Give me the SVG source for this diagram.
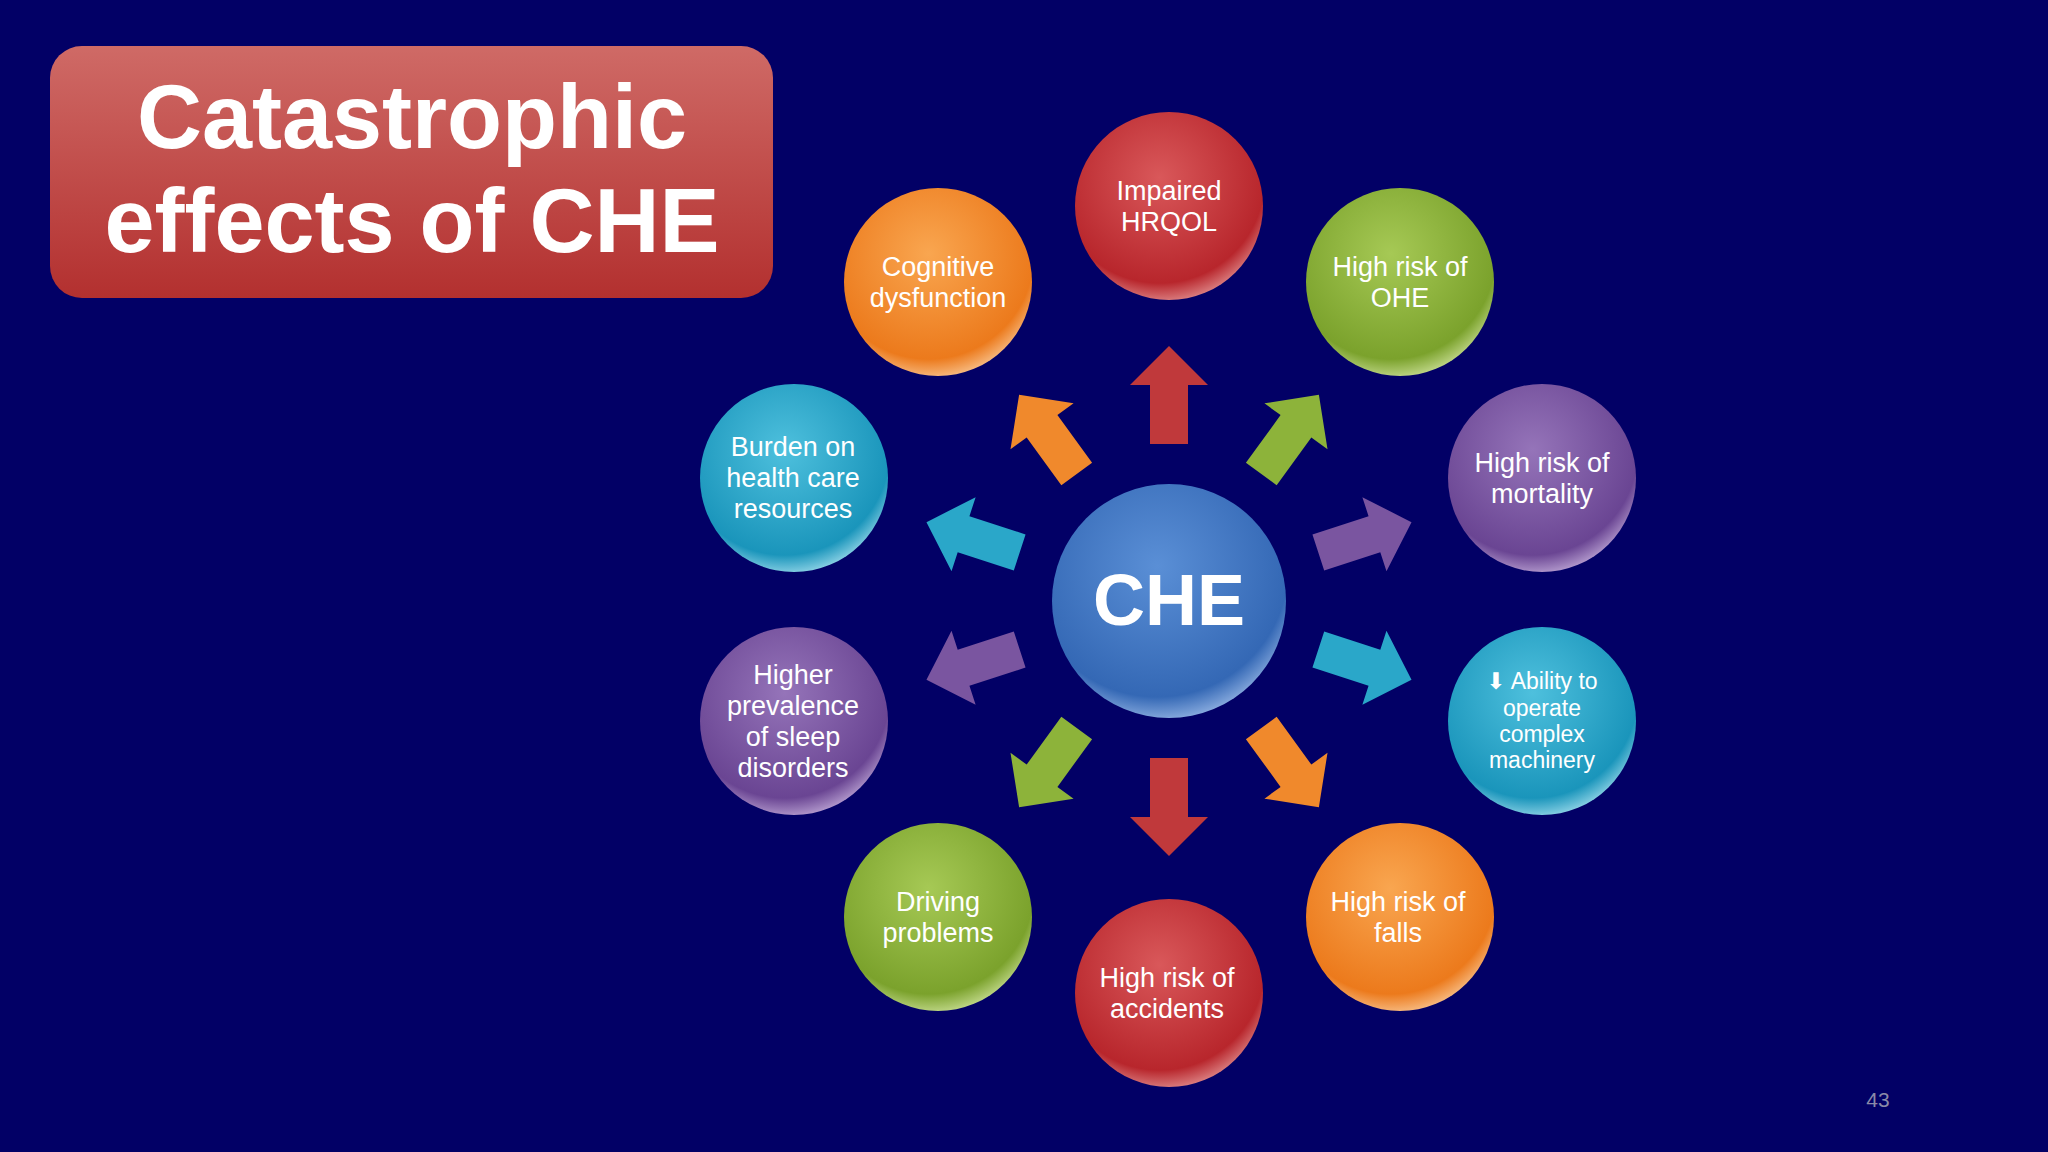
<svg xmlns="http://www.w3.org/2000/svg" width="2048" height="1152" viewBox="0 0 2048 1152">
<defs>
<radialGradient id="gr" cx="0.45" cy="0.35" r="0.7"><stop offset="0" stop-color="#d9585a"/><stop offset="0.8" stop-color="#b8262c"/><stop offset="1" stop-color="#e8a0a0"/></radialGradient>
<radialGradient id="gg" cx="0.45" cy="0.35" r="0.7"><stop offset="0" stop-color="#a6c955"/><stop offset="0.8" stop-color="#7ba22c"/><stop offset="1" stop-color="#d8eaa8"/></radialGradient>
<radialGradient id="gp" cx="0.45" cy="0.35" r="0.7"><stop offset="0" stop-color="#9574b9"/><stop offset="0.8" stop-color="#6a4593"/><stop offset="1" stop-color="#cdb8e2"/></radialGradient>
<radialGradient id="gc" cx="0.45" cy="0.35" r="0.7"><stop offset="0" stop-color="#4ec0dd"/><stop offset="0.8" stop-color="#1a95bb"/><stop offset="1" stop-color="#b2e6f3"/></radialGradient>
<radialGradient id="go" cx="0.45" cy="0.35" r="0.7"><stop offset="0" stop-color="#f9a650"/><stop offset="0.8" stop-color="#ec7a1c"/><stop offset="1" stop-color="#fbd2a6"/></radialGradient>
<radialGradient id="gb" cx="0.45" cy="0.35" r="0.7"><stop offset="0" stop-color="#5a8fd6"/><stop offset="0.8" stop-color="#3468b5"/><stop offset="1" stop-color="#a8c4ee"/></radialGradient>
<linearGradient id="gt" x1="0" y1="0" x2="0" y2="1"><stop offset="0" stop-color="#cf6a66"/><stop offset="1" stop-color="#b3302f"/></linearGradient>
<path id="arr" d="M0,-49 L39,-10 L19,-10 L19,49 L-19,49 L-19,-10 L-39,-10 Z"/>
</defs>
<style>
.t{font-family:"Liberation Sans",Arial,sans-serif;fill:#fff;text-anchor:middle}
.n{font-size:27px}
.s{font-size:23px}
</style>
<rect width="2048" height="1152" fill="#020066"/>
<g id="title">
<rect x="50" y="46" width="723" height="252" rx="32" fill="url(#gt)"/>
<text class="t" x="412" y="148" font-size="90" font-weight="bold">Catastrophic</text>
<text class="t" x="412" y="252" font-size="90" font-weight="bold">effects of CHE</text>
</g>
<g id="connectors" transform="translate(1169,601)">
<use href="#arr" fill="#c0393b" transform="rotate(0) translate(0,-206)"/>
<use href="#arr" fill="#8db33a" transform="rotate(36) translate(0,-206)"/>
<use href="#arr" fill="#7a55a0" transform="rotate(72) translate(0,-206)"/>
<use href="#arr" fill="#2aa7c9" transform="rotate(108) translate(0,-206)"/>
<use href="#arr" fill="#f0892c" transform="rotate(144) translate(0,-206)"/>
<use href="#arr" fill="#c0393b" transform="rotate(180) translate(0,-206)"/>
<use href="#arr" fill="#8db33a" transform="rotate(216) translate(0,-206)"/>
<use href="#arr" fill="#7a55a0" transform="rotate(252) translate(0,-206)"/>
<use href="#arr" fill="#2aa7c9" transform="rotate(288) translate(0,-206)"/>
<use href="#arr" fill="#f0892c" transform="rotate(324) translate(0,-206)"/>
</g>
<g id="che"><circle cx="1169" cy="601" r="117" fill="url(#gb)"/><text class="t" x="1169" y="625" font-size="72" font-weight="bold">CHE</text></g>
<g id="hrqol"><circle cx="1169" cy="206" r="94" fill="url(#gr)"/><text class="t n" x="1169" y="200">Impaired</text><text class="t n" x="1169" y="231">HRQOL</text></g>
<g id="ohe"><circle cx="1400" cy="282" r="94" fill="url(#gg)"/><text class="t n" x="1400" y="276">High risk of</text><text class="t n" x="1400" y="307">OHE</text></g>
<g id="mortality"><circle cx="1542" cy="478" r="94" fill="url(#gp)"/><text class="t n" x="1542" y="472">High risk of</text><text class="t n" x="1542" y="503">mortality</text></g>
<g id="machinery"><circle cx="1542" cy="721" r="94" fill="url(#gc)"/><text class="t s" x="1542" y="689"><tspan font-family="DejaVu Sans">⬇</tspan> Ability to</text><text class="t s" x="1542" y="716">operate</text><text class="t s" x="1542" y="742">complex</text><text class="t s" x="1542" y="768">machinery</text></g>
<g id="falls"><circle cx="1400" cy="917" r="94" fill="url(#go)"/><text class="t n" x="1398" y="911">High risk of</text><text class="t n" x="1398" y="942">falls</text></g>
<g id="accidents"><circle cx="1169" cy="993" r="94" fill="url(#gr)"/><text class="t n" x="1167" y="987">High risk of</text><text class="t n" x="1167" y="1018">accidents</text></g>
<g id="driving"><circle cx="938" cy="917" r="94" fill="url(#gg)"/><text class="t n" x="938" y="911">Driving</text><text class="t n" x="938" y="942">problems</text></g>
<g id="sleep"><circle cx="794" cy="721" r="94" fill="url(#gp)"/><text class="t n" x="793" y="684">Higher</text><text class="t n" x="793" y="715">prevalence</text><text class="t n" x="793" y="746">of sleep</text><text class="t n" x="793" y="777">disorders</text></g>
<g id="burden"><circle cx="794" cy="478" r="94" fill="url(#gc)"/><text class="t n" x="793" y="456">Burden on</text><text class="t n" x="793" y="487">health care</text><text class="t n" x="793" y="518">resources</text></g>
<g id="cognitive"><circle cx="938" cy="282" r="94" fill="url(#go)"/><text class="t n" x="938" y="276">Cognitive</text><text class="t n" x="938" y="307">dysfunction</text></g>
<text x="1878" y="1107" font-family="Liberation Sans,sans-serif" font-size="21" fill="#8a8aa8" text-anchor="middle">43</text>
</svg>
